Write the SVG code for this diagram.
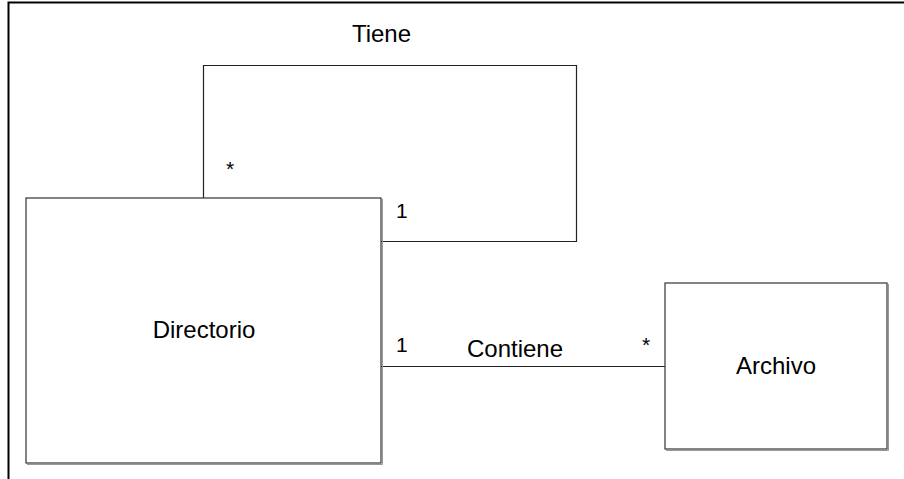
<svg xmlns="http://www.w3.org/2000/svg" width="904" height="479" viewBox="0 0 904 479">
<style>
.box{fill:#fff;stroke:#333;stroke-width:1.2}
.shadow{fill:none;stroke:#999;stroke-width:1}
.conn{fill:none;stroke:#222;stroke-width:1.2}
.frame{fill:none;stroke:#000;stroke-width:2}
text{font-family:"Liberation Sans",Arial,sans-serif;fill:#000}
.lbl{font-size:24px}
.mul{font-size:21px}
</style>
<rect width="904" height="479" fill="#fff"/>
<path class="frame" d="M8.5,479 V2.5 H904"/>
<g id="connectors">
<path class="conn" d="M203.5,198 V65.5 H576.5 V241.5 H381"/>
<line class="conn" x1="381" y1="366.5" x2="665" y2="366.5"/>
<text class="lbl" x="381.5" y="42" text-anchor="middle">Tiene</text>
<text class="mul" x="226" y="176">*</text>
<text class="mul" x="396" y="218">1</text>
<text class="mul" x="396" y="352">1</text>
<text class="lbl" x="515" y="357" text-anchor="middle">Contiene</text>
<text class="mul" x="642" y="352">*</text>
</g>
<g id="directorio">
<path class="shadow" d="M382.5,199 V464.5 H27"/>
<rect class="box" x="26" y="198" width="355" height="265"/>
<text class="lbl" x="204" y="338" text-anchor="middle">Directorio</text>
</g>
<g id="archivo">
<path class="shadow" d="M888.5,284 V450.5 H666"/>
<rect class="box" x="665" y="283" width="222" height="166"/>
<text class="lbl" x="776" y="374" text-anchor="middle">Archivo</text>
</g>
</svg>
